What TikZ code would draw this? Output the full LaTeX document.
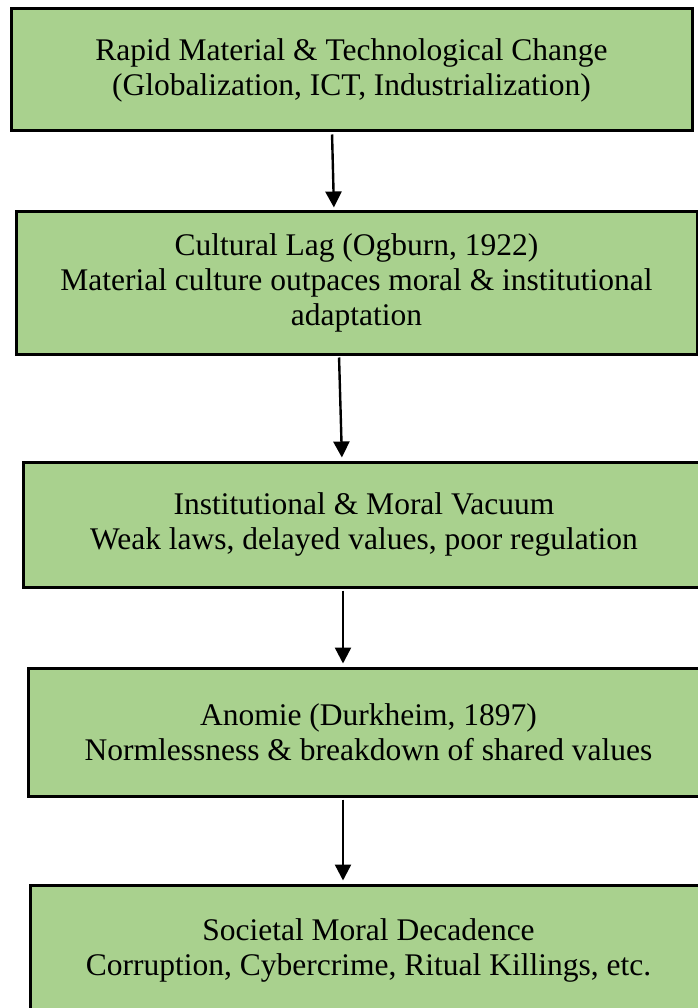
\documentclass[tikz,border=0pt]{standalone}
\usepackage{fontspec}
\setmainfont{Liberation Serif}
\usetikzlibrary{arrows.meta,positioning}
\definecolor{boxgreen}{HTML}{A9D18E}

\begin{document}
\begin{tikzpicture}[x=1pt,y=-1pt,
	stage/.style={draw=black,line width=3pt,fill=boxgreen,align=center,inner sep=0pt,
		font=\fontsize{31.5}{35}\selectfont},
	flow/.style={-{Triangle[length=16pt,width=16pt]},line width=2.4pt,shorten <=2pt,shorten >=3pt}]
	\useasboundingbox (0,0) rectangle (697,1008);
	\node[stage,minimum width=681,minimum height=122] (change) at (351.5,70)
		{Rapid Material \& Technological Change\\(Globalization, ICT, Industrialization)};
	\node[stage,minimum width=681,minimum height=142] (lag) at (356.5,283)
		{Cultural Lag (Ogburn, 1922)\\Material culture outpaces moral \& institutional\\adaptation};
	\node[stage,minimum width=682,minimum height=125] (vacuum) at (364,524.5)
		{Institutional \& Moral Vacuum\\Weak laws, delayed values, poor regulation};
	\node[stage,minimum width=681,minimum height=128] (anomie) at (368.5,732)
		{Anomie (Durkheim, 1897)\\Normlessness \& breakdown of shared values};
	\node[stage,minimum width=677,minimum height=130] (decadence) at (368.5,950)
		{Societal Moral Decadence\\Corruption, Cybercrime, Ritual Killings, etc.};
	% arrows between the stages
	\draw[flow] ([xshift=-19.5pt]change.south) -- ([xshift=-22.5pt]lag.north);
	\draw[flow] ([xshift=-17.5pt]lag.south) -- ([xshift=-22pt]vacuum.north);
	\draw[flow] ([xshift=-21pt]vacuum.south) -- ([xshift=-25.5pt]anomie.north);
	\draw[flow] ([xshift=-25.5pt]anomie.south) -- ([xshift=-25.5pt]decadence.north);
\end{tikzpicture}
\end{document}
